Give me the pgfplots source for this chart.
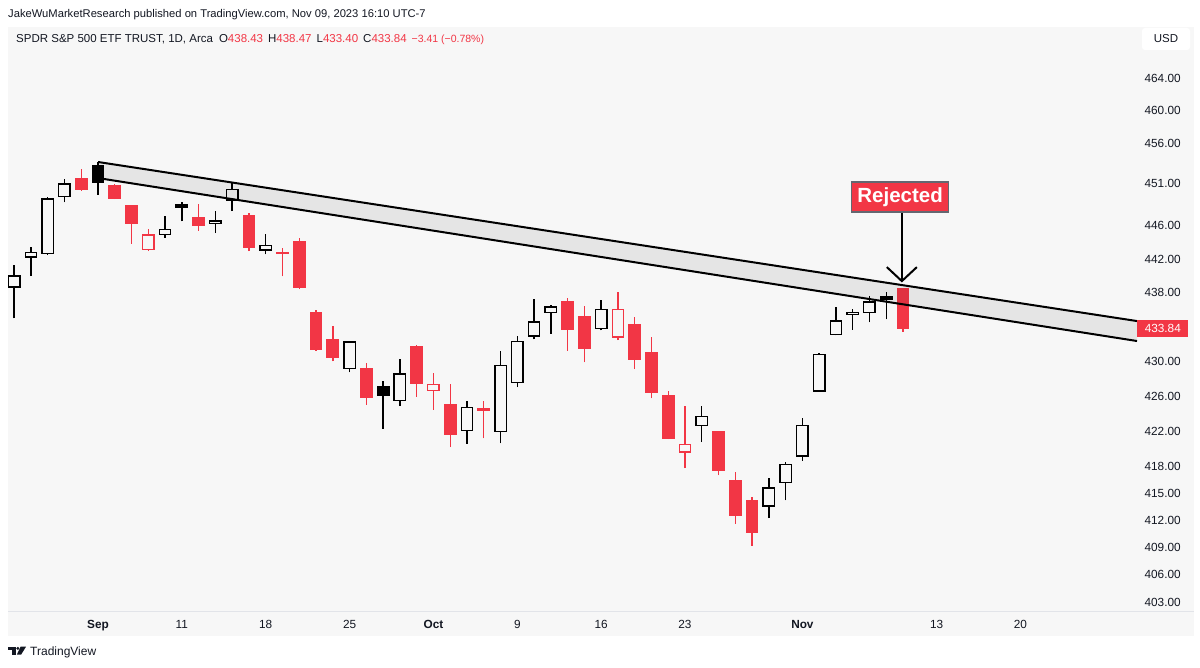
\documentclass[border=0pt]{standalone}
\usepackage{fontspec}
\setmainfont{Liberation Sans}
\usepackage{pgfplots}
\usepackage{pgfplotstable}
\pgfplotsset{compat=1.18}
\usetikzlibrary{arrows.meta}

\definecolor{tvred}{RGB}{242,54,69}
\definecolor{tvtext}{RGB}{19,23,34}
\definecolor{panebg}{RGB}{247,247,247}
\definecolor{sepline}{RGB}{226,228,233}
\definecolor{boxedge}{RGB}{100,103,112}

% SPY daily bars: slot (trading days from 1 Sep 2023), open, high, low, close
\pgfplotstableread{
idx open high low close
-5 438.68 441.30 435.00 439.97
-4 442.24 443.40 439.97 442.76
-3 442.65 449.45 442.46 449.16
-2 449.51 451.67 448.78 451.01
-1 451.65 452.83 450.16 450.35
0 453.17 453.67 449.68 451.19
1 450.73 451.06 449.17 449.24
2 448.40 448.51 443.81 446.22
3 443.11 445.55 442.92 444.85
4 444.90 447.11 444.53 445.52
5 448.24 448.77 446.47 448.45
6 446.95 448.53 445.39 445.99
7 446.22 447.71 445.08 446.51
8 449.07 451.08 447.71 450.36
9 447.14 447.48 442.92 443.37
10 443.05 444.97 442.56 443.63
11 442.68 443.29 439.94 442.71
12 444.01 444.44 438.43 438.64
13 435.70 435.97 431.23 431.39
14 432.45 434.10 429.99 430.42
15 429.17 432.27 428.72 432.23
16 429.09 429.82 425.02 425.88
17 427.09 427.67 422.29 426.05
18 425.48 430.25 424.87 428.52
19 431.67 431.85 425.91 427.48
20 426.62 428.60 424.46 427.31
21 425.06 427.37 420.18 421.59
22 422.07 425.43 420.56 424.66
23 424.36 425.37 421.17 424.50
24 421.97 431.13 420.60 429.54
25 427.58 432.88 427.01 432.29
26 432.94 437.22 432.53 434.54
27 435.64 436.58 433.18 436.32
28 436.95 437.34 431.23 433.66
29 435.21 436.45 429.88 431.50
30 433.82 437.14 433.57 436.04
31 432.81 438.14 432.45 436.02
32 434.19 435.18 429.09 430.21
33 430.95 432.82 425.73 426.43
34 425.98 426.54 421.08 421.19
35 419.61 424.82 417.80 420.46
36 422.65 424.82 420.74 423.63
37 421.89 421.92 417.02 417.55
38 416.45 417.33 411.60 412.55
39 414.19 414.60 409.21 410.68
40 413.56 416.68 412.22 415.59
41 416.18 418.53 414.21 418.20
42 419.20 423.50 418.65 422.66
43 426.58 430.92 426.56 430.76
44 433.14 436.29 433.01 434.69
45 435.47 436.15 433.68 435.69
46 435.69 437.59 434.51 436.93
47 437.55 438.09 434.87 437.25
48 438.43 438.47 433.40 433.84
}\ohlc

\begin{document}
\begin{tikzpicture}[x=1pt,y=1pt]
\useasboundingbox (0,0) rectangle (1200,667);
\fill[white] (0,0) rectangle (1200,667);
% chart pane
\fill[panebg] (8,31) rectangle (1194,640);
\draw[sepline, line width=0.8pt] (8,56) -- (1194,56);

% publication line and symbol legend
\node[anchor=base west, inner sep=0pt, text=tvtext, font=\fontsize{11.2}{14}\selectfont]
  at (8,649.5) {JakeWuMarketResearch published on TradingView.com, Nov 09, 2023 16:10 UTC-7};
\node[anchor=base west, inner sep=0pt, text=tvtext, font=\fontsize{11.5}{14}\selectfont]
  at (16,624.7) {SPDR S\&P 500 ETF TRUST, 1D, Arca\hspace{6pt}O\textcolor{tvred}{438.43}\hspace{5pt}H\textcolor{tvred}{438.47}\hspace{5pt}L\textcolor{tvred}{433.40}\hspace{5pt}C\textcolor{tvred}{433.84}\hspace{5pt}{\fontsize{10.5}{14}\selectfont\textcolor{tvred}{−3.41 (−0.78\%)}}};

% currency button
\fill[white, rounded corners=3pt] (1142,617) rectangle (1190,639);
\node[text=tvtext, font=\fontsize{11.5}{14}\selectfont] at (1166,628) {USD};

% footer logo and name
\fill[tvtext] (8.3,17) rectangle (15.5,20.3);
\fill[tvtext] (11.8,12.5) rectangle (15.5,20.3);
\fill[tvtext] (17.8,18.6) circle (1.6);
\fill[tvtext] (20.6,20.3) -- (26,20.3) -- (21.2,12.5) -- (16.9,12.5) -- cycle;
\node[anchor=base west, inner sep=0pt, text=tvtext, font=\fontsize{12}{14}\selectfont]
  at (30,11.2) {TradingView};

\begin{axis}[
  at={(8pt,56pt)}, anchor=south west,
  scale only axis, width=1129pt, height=584pt,
  % logarithmic price scale
  y coord trafo/.code={\pgfmathparse{1000*ln(#1/400)}},
  y coord inv trafo/.code={\pgfmathparse{400*exp(#1/1000)}},
  xmin=-5.367, xmax=61.955,
  ymin=402.06, ymax=470.45,
  axis line style={draw=none}, tick style={draw=none},
  clip=false,
  xtick={0,5,10,15,20,25,30,35,42,50,55},
  xticklabels={\textbf{Sep},11,18,25,\textbf{Oct},9,16,23,\textbf{Nov},13,20},
  xticklabel style={anchor=base, yshift=-17pt, text=tvtext, font=\fontsize{11.8}{14}\selectfont},
  yticklabel pos=right,
  ytick={403,406,409,412,415,418,422,426,430,438,442,446,451,456,460,464},
  yticklabels={403.00,406.00,409.00,412.00,415.00,418.00,422.00,426.00,430.00,438.00,442.00,446.00,451.00,456.00,460.00,464.00},
  yticklabel style={anchor=west, xshift=4pt, text=tvtext, font=\fontsize{11.8}{14}\selectfont},
]

% hollow candles: close above open; red when the close is below the previous close
\pgfplotstablegetrowsof{\ohlc}
\pgfmathtruncatemacro{\lastrow}{\pgfplotsretval-1}
\gdef\prevclose{436.89}
\pgfplotsforeachungrouped \rowi in {0,...,\lastrow}{%
  \pgfplotstablegetelem{\rowi}{idx}\of{\ohlc}\let\cX\pgfplotsretval
  \pgfplotstablegetelem{\rowi}{open}\of{\ohlc}\let\cO\pgfplotsretval
  \pgfplotstablegetelem{\rowi}{high}\of{\ohlc}\let\cH\pgfplotsretval
  \pgfplotstablegetelem{\rowi}{low}\of{\ohlc}\let\cL\pgfplotsretval
  \pgfplotstablegetelem{\rowi}{close}\of{\ohlc}\let\cC\pgfplotsretval
  \pgfmathsetmacro{\xleft}{\cX-0.34}%
  \pgfmathsetmacro{\xright}{\cX+0.34}%
  \pgfmathtruncatemacro{\isdown}{\cC<\prevclose}%
  \pgfmathtruncatemacro{\ishollow}{\cC>\cO}%
  \ifnum\isdown=1 \def\candlecol{tvred}\else\def\candlecol{black}\fi
  \ifnum\ishollow=1 \def\bodyfill{panebg}\else\edef\bodyfill{\candlecol}\fi
  \edef\drawcandle{%
    \noexpand\addplot[draw=\candlecol, line width=1.4pt, forget plot]
      coordinates {(\cX,\cL) (\cX,\cH)};%
    \noexpand\addplot[draw=\candlecol, fill=\bodyfill, line width=1.4pt, forget plot]
      coordinates {(\xleft,\cO) (\xright,\cO) (\xright,\cC) (\xleft,\cC)} -- cycle;%
  }%
  \drawcandle
  \global\let\prevclose\cC
}

% descending channel from the 1 Sep high
\addplot[draw=none, fill=black, fill opacity=0.07, forget plot]
  coordinates {(0,453.67) (61.955,434.68) (61.955,432.35) (0,451.72)} -- cycle;
\addplot[black, line width=2pt, forget plot] coordinates {(0,453.67) (61.955,434.68)};
\addplot[black, line width=2pt, forget plot] coordinates {(0,451.72) (61.955,432.35)};

% last price marker
\addplot[draw=none, forget plot] coordinates {(61.955,433.84)}
  node[fill=tvred, text=white, anchor=west, inner xsep=7.5pt, inner ysep=0pt,
    minimum height=17pt, font=\fontsize{11.8}{14}\selectfont] {433.84};

% annotation
\addplot[draw=none, forget plot] coordinates {(47.83,449.42)}
  node[fill=tvred, draw=boxedge, line width=1.6pt, text=white, inner sep=0pt,
    minimum width=97pt, minimum height=30pt, font=\bfseries\fontsize{20.5}{24}\selectfont] {Rejected};
\addplot[black, line width=2pt, -{Straight Barb[length=14pt,width=30pt,line width=2pt]}, forget plot]
  coordinates {(47.93,447.5) (47.93,439.2)};
\end{axis}
\end{tikzpicture}
\end{document}
